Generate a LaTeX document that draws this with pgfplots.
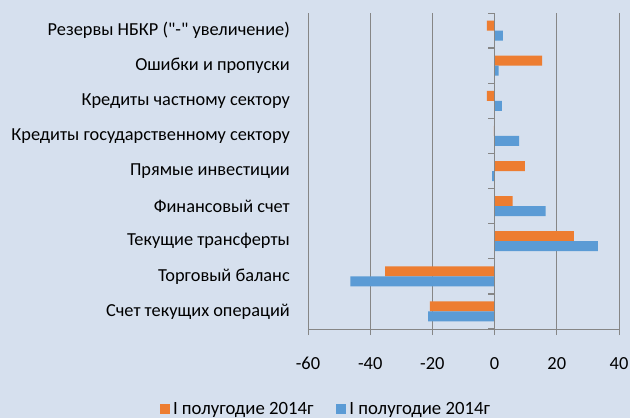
\documentclass[border=0pt]{standalone}
\usepackage{pgfplots}
\pgfplotsset{compat=1.18}
\usepackage{fontspec}
\setmainfont{Carlito}[Ligatures=TeXOff]
\definecolor{bg}{RGB}{214,224,238}
\definecolor{orng}{RGB}{237,125,49}
\definecolor{blu}{RGB}{91,155,213}
\definecolor{grd}{RGB}{134,134,134}
\begin{document}
\begin{tikzpicture}
\path[use as bounding box, fill=bg] (-308bp,-89bp) rectangle (322bp,329bp);
\begin{axis}[
  at={(0,0)}, anchor=south west,
  scale only axis, width=311bp, height=316bp,
  xmin=-60, xmax=40, ymin=-0.5, ymax=8.5,
  xbar, bar width=10bp,
  xtick={-60,-40,-20,0,20,40},
  ytick={0,1,2,3,4,5,6,7,8},
  yticklabels={Счет текущих операций, Торговый баланс, Текущие трансферты, Финансовый счет, Прямые инвестиции, Кредиты государственному сектору, Кредиты частному сектору, Ошибки и пропуски, {Резервы НБКР ("-" увеличение)}},
  xmajorgrids, grid style={grd, line width=0.8bp},
  axis lines*=left,
  axis line style={grd, line width=0.8bp},
  tick align=outside,
  x tick style={grd, line width=0.8bp},
  major tick length=6bp,
  y tick style={draw=none},
  /pgf/number format/assume math mode=true,
  xticklabel style={font=\fontsize{18.5}{22}\selectfont, yshift=-19bp},
  yticklabel style={font=\fontsize{18.4}{22}\selectfont, inner sep=0pt, xshift=-12bp},
  legend columns=2,
  legend style={at={(0.0595,-0.253)}, anchor=center, draw=none, fill=none,
    font=\fontsize{18.8}{22}\selectfont,
    /tikz/every even column/.append style={column sep=20bp},
    nodes={inner xsep=3bp}},
  legend image code/.code={\path[#1] (0bp,-5bp) rectangle (10bp,5bp);},
]
\addplot[fill=orng, draw=none, bar shift=5bp] coordinates {(-20.8,0) (-35.2,1) (25.5,2) (5.8,3) (9.7,4) (-0.2,5) (-2.5,6) (15.3,7) (-2.5,8)};
\addplot[fill=blu, draw=none, bar shift=-5bp] coordinates {(-21.4,0) (-46.4,1) (33.2,2) (16.4,3) (-0.8,4) (7.9,5) (2.3,6) (1.3,7) (2.7,8)};
\legend{I полугодие 2014г, I полугодие 2014г}
\draw[grd, line width=1.3bp] (axis cs:0,-0.5) -- (axis cs:0,8.5);
\pgfplotsinvokeforeach{-0.5,0.5,1.5,2.5,3.5,4.5,5.5,6.5,7.5,8.5}{\draw[grd, line width=1.3bp] (axis cs:0,#1) -- (axis cs:-2,#1);}
\end{axis}
\end{tikzpicture}
\end{document}
